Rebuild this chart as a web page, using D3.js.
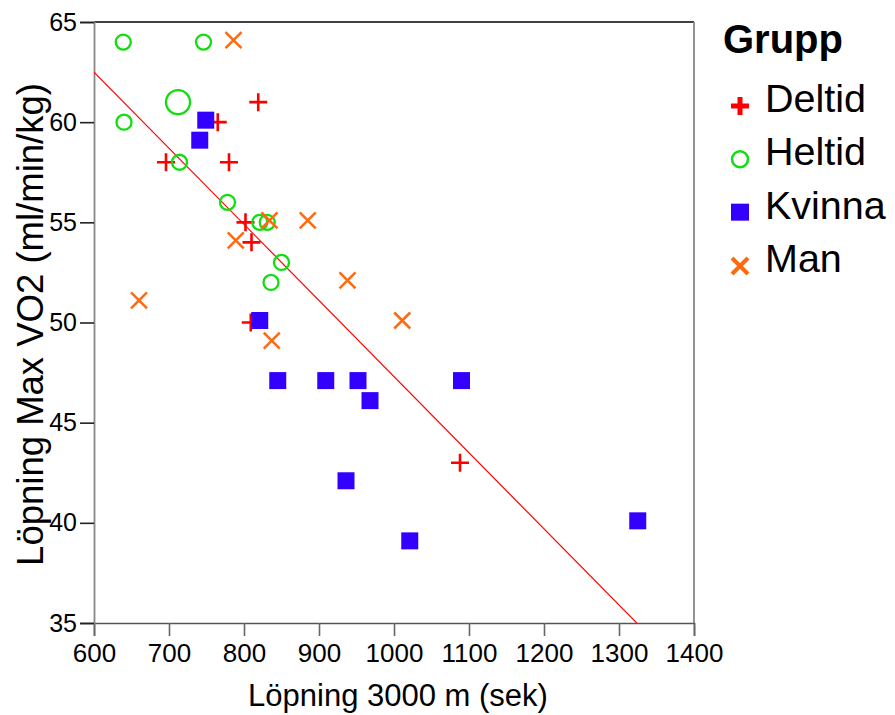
<!DOCTYPE html>
<html>
<head>
<meta charset="utf-8">
<script src="https://cdn.jsdelivr.net/npm/d3@7"></script>
<style>
  html, body { margin: 0; padding: 0; background: #fff; }
  svg { display: block; font-family: Arial, "Liberation Sans", sans-serif; }
</style>
</head>
<body>
<svg id="chart" width="895" height="715"></svg>
<script>
// Löpning 3000 m (sek) vs Löpning Max VO2, per grupp
const deltidTime = [819, 765, 696, 780, 802, 810, 809, 1088];
const deltidVO2  = [61, 60, 58, 58, 55, 54, 50, 43];

const heltidTime = [639, 746, 712, 640, 714, 778, 821, 831, 850, 836];
const heltidVO2  = [64, 64, 61, 60, 58, 56, 55, 55, 53, 52];
const heltidN    = [1, 1, 2, 1, 1, 1, 1, 1, 1, 1];

const kvinnaTime = [749, 741, 821, 845, 909, 952, 968, 1090, 936, 1021, 1325];
const kvinnaVO2  = [60.1, 59.1, 50.1, 47.1, 47.1, 47.1, 46.1, 47.1, 42.1, 39.1, 40.1];

const manTime = [786, 660, 789, 834, 885, 938, 837, 1011];
const manVO2  = [64.1, 51.1, 54.1, 55.1, 55.1, 52.1, 49.1, 50.1];

// linear fit: VO2 = intercept + slope * time
const fitIntercept = 85.3;
const fitSlope = -0.038;

const xTicks = [600, 700, 800, 900, 1000, 1100, 1200, 1300, 1400];
const yTicks = [35, 40, 45, 50, 55, 60, 65];
const groups = ["Deltid", "Heltid", "Kvinna", "Man"];
const groupColors = ["#ff0000", "#11dd11", "#3300ff", "#ff6a10"];

const svg = d3.select("#chart");
const plotL = 94, plotR = 694, plotT = 22, plotB = 623;

const x = d3.scaleLinear().domain([600, 1400]).range([plotL, plotR]);
const y = d3.scaleLinear().domain([35, 65]).range([plotB, plotT]);
const rScale = d3.scaleLinear().domain([1, 2]).range([7.5, 12]);

// frame: top and right edges
svg.append("line").attr("x1", plotL).attr("x2", plotR).attr("y1", plotT).attr("y2", plotT)
  .attr("stroke", "#000").attr("stroke-width", 1.6);
svg.append("line").attr("x1", plotR).attr("x2", plotR).attr("y1", plotT).attr("y2", plotB)
  .attr("stroke", "#888").attr("stroke-width", 1.8);

// axes
const xAxis = svg.append("g").attr("transform", `translate(0,${plotB})`)
  .call(d3.axisBottom(x).tickValues(xTicks).tickSize(13).tickPadding(8).tickFormat(d3.format("d")));
const yAxis = svg.append("g").attr("transform", `translate(${plotL},0)`)
  .call(d3.axisLeft(y).tickValues(yTicks).tickSize(14).tickPadding(3).tickFormat(d3.format("d")));

xAxis.select(".domain").attr("stroke", "#555").attr("stroke-width", 1.6);
xAxis.selectAll(".tick line").attr("stroke", "#666").attr("stroke-width", 1.6);
yAxis.select(".domain").attr("stroke", "#888").attr("stroke-width", 1.8);
yAxis.selectAll(".tick line").attr("stroke", "#222").attr("stroke-width", 1.6);
xAxis.selectAll(".tick text").attr("font-size", 26).attr("fill", "#000")
  .attr("font-family", "Arial, 'Liberation Sans', sans-serif");
yAxis.selectAll(".tick text").attr("font-size", 25).attr("fill", "#000")
  .attr("font-family", "Arial, 'Liberation Sans', sans-serif");

// axis titles
svg.append("text").attr("x", (plotL + plotR) / 2 + 4).attr("y", 706)
  .attr("text-anchor", "middle").attr("font-size", 31).text("Löpning 3000 m (sek)");
svg.append("text")
  .attr("transform", `translate(43,${(plotT + plotB) / 2 + 2}) rotate(-90)`)
  .attr("text-anchor", "middle").attr("font-size", 36.5).text("Löpning Max VO2 (ml/min/kg)");

// fit line, clipped to the plot area
svg.append("clipPath").attr("id", "plotClip").append("rect")
  .attr("x", plotL).attr("y", plotT).attr("width", plotR - plotL).attr("height", plotB - plotT);
const fitX = [600, 1400];
svg.append("path")
  .attr("clip-path", "url(#plotClip)")
  .attr("d", d3.line().x(d => x(d)).y(d => y(fitIntercept + fitSlope * d))(fitX))
  .attr("stroke", "#ff0000").attr("stroke-width", 1.2).attr("fill", "none");

// marker shapes
function plusPath(s) { return `M${-s},0H${s}M0,${-s}V${s}`; }
function crossPath(s) { return `M${-s},${-s}L${s},${s}M${-s},${s}L${s},${-s}`; }

const pts = svg.append("g");

// Deltid
pts.selectAll(".deltid").data(deltidTime).join("path")
  .attr("transform", (d, i) => `translate(${x(d)},${y(deltidVO2[i])})`)
  .attr("d", plusPath(9)).attr("stroke", groupColors[0]).attr("stroke-width", 2.6).attr("fill", "none");

// Heltid
pts.selectAll(".heltid").data(heltidTime).join("circle")
  .attr("cx", d => x(d)).attr("cy", (d, i) => y(heltidVO2[i]))
  .attr("r", (d, i) => rScale(heltidN[i]))
  .attr("stroke", groupColors[1]).attr("stroke-width", 2.3).attr("fill", "none");

// Kvinna
pts.selectAll(".kvinna").data(kvinnaTime).join("rect")
  .attr("x", d => x(d) - 8.5).attr("y", (d, i) => y(kvinnaVO2[i]) - 8.5)
  .attr("width", 17).attr("height", 17).attr("fill", groupColors[2]);

// Man
pts.selectAll(".man").data(manTime).join("path")
  .attr("transform", (d, i) => `translate(${x(d)},${y(manVO2[i])})`)
  .attr("d", crossPath(8)).attr("stroke", groupColors[3]).attr("stroke-width", 2.5).attr("fill", "none");

// legend
const lg = svg.append("g");
lg.append("text").attr("x", 723).attr("y", 53).attr("font-size", 40).attr("font-weight", "bold").text("Grupp");
const rowBase = d3.scaleLinear().domain([0, 3]).range([112, 272]);
groups.forEach((g, i) => {
  const by = rowBase(i);
  const cy = by - 6;
  lg.append("text").attr("x", 765).attr("y", by).attr("font-size", 39.5).text(g);
  const m = lg.append("g").attr("transform", `translate(740,${cy})`);
  if (i === 0) m.append("path").attr("d", plusPath(9)).attr("stroke", groupColors[0]).attr("stroke-width", 5).attr("fill", "none");
  if (i === 1) m.append("circle").attr("r", 8).attr("stroke", groupColors[1]).attr("stroke-width", 2.5).attr("fill", "none");
  if (i === 2) m.append("rect").attr("x", -9).attr("y", -9).attr("width", 18).attr("height", 17).attr("fill", groupColors[2]);
  if (i === 3) m.append("path").attr("d", crossPath(8)).attr("stroke", groupColors[3]).attr("stroke-width", 4).attr("fill", "none");
});
</script>
</body>
</html>
